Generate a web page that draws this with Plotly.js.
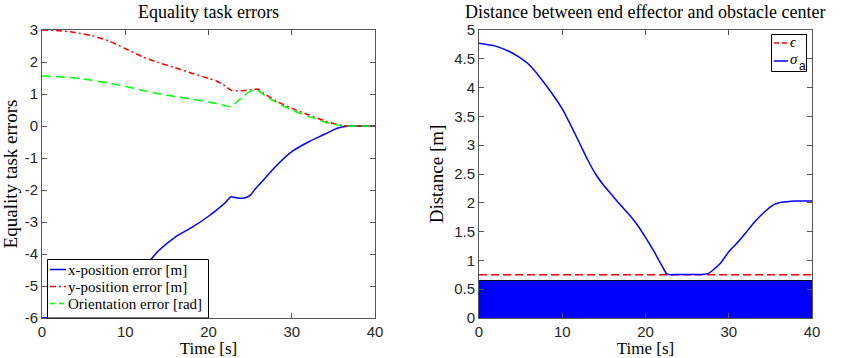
<!DOCTYPE html>
<html><head><meta charset="utf-8">
<script src="https://cdn.plot.ly/plotly-3.0.1.min.js"></script>
<style>html,body{margin:0;padding:0;background:#fff}#c{width:845px;height:358px}</style>
</head><body><div id="c"></div>
<script>
// ---- data (left: Equality task errors) ----
const tL = [0,2,4,6,8,10,12,13,14,16,18,20,21,22,22.7,23.5,24.3,25,25.5,26,26.6,28,30,32,34,35,36,37,38,40];
const xErr = [-6.0,-5.96,-5.87,-5.7,-5.4,-5.0,-4.5,-4.19,-3.9,-3.47,-3.17,-2.82,-2.62,-2.40,-2.21,-2.25,-2.25,-2.17,-2.0,-1.86,-1.69,-1.28,-0.80,-0.50,-0.25,-0.12,-0.03,0,0,0];
const yErr = [3.0,2.98,2.92,2.82,2.66,2.42,2.17,2.07,1.98,1.82,1.65,1.49,1.40,1.25,1.12,1.10,1.11,1.13,1.15,1.15,1.03,0.80,0.55,0.35,0.16,0.08,0.02,0,0,0];
const oErr = [1.56,1.54,1.50,1.43,1.34,1.24,1.12,1.06,1.01,0.92,0.84,0.75,0.70,0.64,0.60,0.78,0.95,1.08,1.13,1.10,0.98,0.76,0.50,0.30,0.12,0.06,0.015,0,0,0];
// ---- data (right: distance) ----
const tR = [0,2,4,5,6,8,10,12,13,14,15,16,17,18,19,20,21,22,22.6,24,26,27,27.5,28,29,30,31,32,33,34,35,36,37,38,40];
const sigmaA = [4.77,4.72,4.60,4.51,4.40,4.05,3.63,3.06,2.76,2.50,2.30,2.13,1.96,1.80,1.62,1.40,1.16,0.90,0.76,0.755,0.755,0.76,0.77,0.82,0.95,1.15,1.30,1.47,1.65,1.80,1.93,2.00,2.02,2.03,2.03];
const epsT = [0,40];
const epsV = [0.75,0.75];
const obsT = [0,40];
const obsV = [0.65,0.65];
// tick labels
const yTickValsL = [-6,-5,-4,-3,-2,-1,0,1,2,3];
const yTickTextL = ['-6','-5','-4','-3','-2','-1','0','1','2','3'];
const xTickVals = [0,10,20,30,40];
const legendL = ['x-position error [m]','y-position error [m]','Orientation error [rad]'];

const W=845,H=358;
const px=x=>x/W, py=y=>1-y/H;
const SERIF='"Liberation Serif", "DejaVu Serif", serif';
const SANS='"Liberation Sans", Arial, sans-serif';
const axc='#262626';

const traces=[
 {x:tL,y:xErr,type:'scatter',mode:'lines',line:{color:'#0000ff',width:1.5,shape:'spline',smoothing:0.6},xaxis:'x',yaxis:'y',showlegend:false},
 {x:tL,y:yErr,type:'scatter',mode:'lines',line:{color:'#ff0000',width:1.5,dash:'6px,3px,2px,3px',shape:'spline',smoothing:0.6},xaxis:'x',yaxis:'y',showlegend:false},
 {x:tL,y:oErr,type:'scatter',mode:'lines',line:{color:'#00ff00',width:1.5,dash:'9px,5px',shape:'spline',smoothing:0.5},xaxis:'x',yaxis:'y',showlegend:false},
 {x:obsT,y:obsV,type:'scatter',mode:'lines',fill:'tozeroy',fillcolor:'#0000ff',line:{color:'#000000',width:1},xaxis:'x2',yaxis:'y2',showlegend:false},
 {x:epsT,y:epsV,type:'scatter',mode:'lines',line:{color:'#ff0000',width:1.5,dash:'8px,4px'},xaxis:'x2',yaxis:'y2',showlegend:false},
 {x:tR,y:sigmaA,type:'scatter',mode:'lines',line:{color:'#0000ff',width:1.5,shape:'spline',smoothing:0.6},xaxis:'x2',yaxis:'y2',showlegend:false}
];

const axBase={showgrid:false,zeroline:false,showline:true,linecolor:'#555',linewidth:1,mirror:'ticks',ticks:'inside',ticklen:5,tickcolor:'#555',tickfont:{family:SANS,size:15,color:axc},automargin:false,fixedrange:true};
const tfont=s=>({family:SERIF,size:s,color:'#000'});

const yd=[py(318),py(30)];
const layout={
 width:W,height:H,margin:{l:0,r:0,t:0,b:0},paper_bgcolor:'#fff',plot_bgcolor:'#fff',showlegend:false,
 xaxis:Object.assign({},axBase,{domain:[px(42),px(375)],range:[0,40],tickvals:xTickVals,anchor:'y',
   title:{text:'Time [s]',font:tfont(17),standoff:3}}),
 yaxis:Object.assign({},axBase,{domain:yd,range:[-6,3],tickvals:yTickValsL,ticktext:yTickTextL,anchor:'x',
   title:{text:'Equality task errors',font:tfont(19),standoff:5}}),
 xaxis2:Object.assign({},axBase,{domain:[px(479),px(812)],range:[0,40],tickvals:xTickVals,anchor:'y2',
   title:{text:'Time [s]',font:tfont(17),standoff:3}}),
 yaxis2:Object.assign({},axBase,{domain:yd,range:[0,5],dtick:0.5,tick0:0,anchor:'x2',
   title:{text:'Distance [m]',font:tfont(19),standoff:5}}),
 annotations:[
  {text:'Equality task errors',x:px(208.5),y:py(12.5),xref:'paper',yref:'paper',showarrow:false,xanchor:'center',yanchor:'middle',font:tfont(18)},
  {text:'Distance between end effector and obstacle center',x:px(645),y:py(12.5),xref:'paper',yref:'paper',showarrow:false,xanchor:'center',yanchor:'middle',font:tfont(18)},
  {text:legendL[0],x:px(66),y:py(269.5),xref:'paper',yref:'paper',showarrow:false,xanchor:'left',yanchor:'middle',font:tfont(15)},
  {text:legendL[1],x:px(66),y:py(286.5),xref:'paper',yref:'paper',showarrow:false,xanchor:'left',yanchor:'middle',font:tfont(15)},
  {text:legendL[2],x:px(66),y:py(303.5),xref:'paper',yref:'paper',showarrow:false,xanchor:'left',yanchor:'middle',font:tfont(15)},
  {text:'<i>ϵ</i>',x:px(788),y:py(43),xref:'paper',yref:'paper',showarrow:false,xanchor:'left',yanchor:'middle',font:tfont(14)},
  {text:'<i>σ</i>',x:px(788),y:py(59),xref:'paper',yref:'paper',showarrow:false,xanchor:'left',yanchor:'middle',font:tfont(15)},
  {text:'a',x:px(797),y:py(66),xref:'paper',yref:'paper',showarrow:false,xanchor:'left',yanchor:'middle',font:{family:SANS,size:12,color:'#000'}}
 ],
 shapes:[
  {type:'rect',xref:'paper',yref:'paper',x0:px(47.5),x1:px(208.5),y0:py(318),y1:py(259.5),line:{color:'#000',width:1},fillcolor:'#fff',layer:'above'},
  {type:'line',xref:'paper',yref:'paper',x0:px(50),x1:px(66),y0:py(269.5),y1:py(269.5),line:{color:'#0000ff',width:1.5},layer:'above'},
  {type:'line',xref:'paper',yref:'paper',x0:px(50),x1:px(66),y0:py(286.5),y1:py(286.5),line:{color:'#ff0000',width:1.5,dash:'6px,3px,2px,3px'},layer:'above'},
  {type:'line',xref:'paper',yref:'paper',x0:px(50),x1:px(66),y0:py(303.5),y1:py(303.5),line:{color:'#00ff00',width:1.5,dash:'5px,4px'},layer:'above'},
  {type:'rect',xref:'paper',yref:'paper',x0:px(771.5),x1:px(806.5),y0:py(71.5),y1:py(34.5),line:{color:'#000',width:1},fillcolor:'#fff',layer:'above'},
  {type:'line',xref:'paper',yref:'paper',x0:px(774),x1:px(788),y0:py(43),y1:py(43),line:{color:'#ff0000',width:1.5,dash:'5px,3px'},layer:'above'},
  {type:'line',xref:'paper',yref:'paper',x0:px(774),x1:px(788),y0:py(61),y1:py(61),line:{color:'#0000ff',width:1.5},layer:'above'}
 ]
};
Plotly.newPlot('c',traces,layout,{staticPlot:true,displayModeBar:false});
</script></body></html>
